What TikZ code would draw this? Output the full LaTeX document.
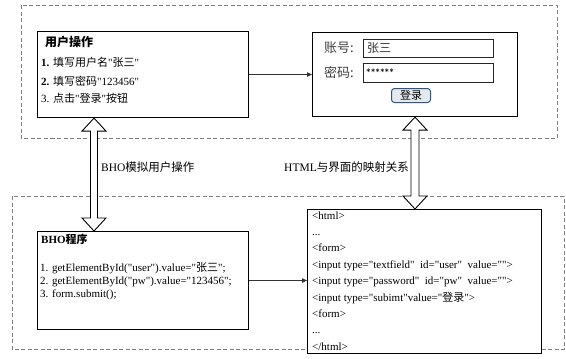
\documentclass[tikz,border=0pt]{standalone}
\usepackage{fontspec}
\setmainfont{Liberation Serif}[Ligatures=TeXOff]
\newfontfamily\cjk{Noto Sans CJK SC}
\newcommand\zh[1]{{\cjk #1}}
\usetikzlibrary{arrows.meta,calc}
\definecolor{dashgray}{HTML}{808080}
\definecolor{btnblue}{HTML}{2F5585}
\definecolor{btnfill}{HTML}{E4E9F0}
\tikzset{
  groupbox/.style={draw=dashgray, line width=0.8pt, dash pattern=on 4pt off 2.5pt},
  box/.style={draw=black, line width=1.1pt, fill=white, inner sep=0pt, anchor=north west},
  field/.style={draw=black!85, line width=0.9pt, inner sep=0pt, anchor=north west},
  txt/.style={inner sep=0pt, anchor=base west, font=\fontsize{11}{13}\selectfont},
  lbl/.style={inner sep=0pt, anchor=west, font=\fontsize{11.5}{13}\selectfont},
  flow/.style={draw=black!80, line width=0.9pt, -{Triangle[length=5pt,width=4.5pt]}},
  harrow/.style={draw=black, line width=0.9pt, fill=white, line join=miter},
}
\newcommand\hollowarrow[3]{%
  \path[harrow] (#1) -- ($(#1)+(12,13)$) -- ($(#1)+(#3,13)$) -- ($(#2)+(#3,-13)$)
    -- ($(#2)+(12,-13)$) -- (#2) -- ($(#2)+(-12,-13)$) -- ($(#2)+(-#3,-13)$)
    -- ($(#1)+(-#3,13)$) -- ($(#1)+(-12,13)$) -- cycle;}
\begin{document}
\begin{tikzpicture}[x=1pt,y=-1pt]
\useasboundingbox (0,0) rectangle (566,359);
% group boxes
\draw[groupbox] (21,5) rectangle (557,138);
\draw[groupbox] (12,196) rectangle (564,349);

% user operation box
\node[box, minimum width=211pt, minimum height=86pt] (u) at (37,31) {};
\node[txt, font=\fontsize{12}{14}\selectfont\cjk\bfseries] (ut) at (45,46) {用户操作};
\node[txt] (u1) at (41,66) {\textbf{1.} \zh{填写用户名}"\zh{张三}"};
\node[txt] (u2) at (41,85) {\textbf{2.} \zh{填写密码}"123456"};
\node[txt] (u3) at (41,102) {3. \zh{点击}"\zh{登录}"\zh{按钮}};

% login form box
\node[box, minimum width=205pt, minimum height=84pt] (l) at (312,32) {};
\node[inner sep=0pt, anchor=west, font=\fontsize{13}{15}\selectfont\cjk, text=black!75] (la) at (324,48) {账号:};
\node[inner sep=0pt, anchor=west, font=\fontsize{13}{15}\selectfont\cjk, text=black!75] (lp) at (324,72) {密码:};
\node[field, minimum width=130pt, minimum height=18pt] (fa) at (363,39) {};
\node[field, minimum width=130pt, minimum height=19pt] (fp) at (363,63) {};
\node[inner sep=0pt, anchor=west, font=\fontsize{12}{14}\selectfont\cjk, text=black!80] (va) at (367,48) {张三};
\node[inner sep=0pt, anchor=west, font=\fontsize{9}{10}\selectfont\sffamily] (vp) at (366,72.5) {******};
\node[draw=btnblue, line width=1pt, rounded corners=3pt, fill=btnfill, minimum width=39pt, minimum height=14pt, inner sep=0pt, font=\fontsize{11}{12}\selectfont\cjk] (btn) at (411,95.5) {登录};

% BHO box
\node[box, minimum width=211pt, minimum height=98pt] (b) at (37,231) {};
\node[txt, font=\fontsize{11}{13}\selectfont\bfseries] (bt) at (41,243) {BHO{\cjk\bfseries 程序}};
\node[txt] (b1) at (40,271) {1. getElementById("user").value="\zh{张三}";};
\node[txt] (b2) at (40,284) {2. getElementById("pw").value="123456";};
\node[txt] (b3) at (40,297) {3. form.submit();};

% HTML box
\node[box, minimum width=234pt, minimum height=144pt] (h) at (307,209) {};
\node[txt] (h1) at (312,219) {<html>};
\node[txt] (h2) at (312,235.4) {...};
\node[txt] (h3) at (312,251.8) {<form>};
\node[txt] (h4) at (312,268.2) {<input type="textfield"\ \ id="user"\ \ value="">};
\node[txt] (h5) at (312,284.6) {<input type="password"\ \ id="pw"\ \ value="">};
\node[txt] (h6) at (312,301) {<input type="subimt"value="\zh{登录}">};
\node[txt] (h7) at (312,317.4) {<form>};
\node[txt] (h8) at (312,333.8) {...};
\node[txt] (h9) at (312,350.2) {</html>};

% flows
\draw[flow] (u.east) -- (u.east -| l.west);
\draw[flow] (b.east) -- (b.east -| h.west);

% hollow double arrows
\coordinate (a1) at ($(u.south west)+(57,0)$);
\coordinate (a2) at (a1 |- b.north);
\coordinate (r1) at ($(l.south west)+(103,0)$);
\coordinate (r2) at (r1 |- h.north);
\hollowarrow{a1}{a2}{3.5}
\hollowarrow{r1}{r2}{4}

% labels
\node[lbl] (la1) at (101,167) {BHO\zh{模拟用户操作}};
\node[lbl] (la2) at (284,167) {HTML\zh{与界面的映射关系}};
\end{tikzpicture}
\end{document}
